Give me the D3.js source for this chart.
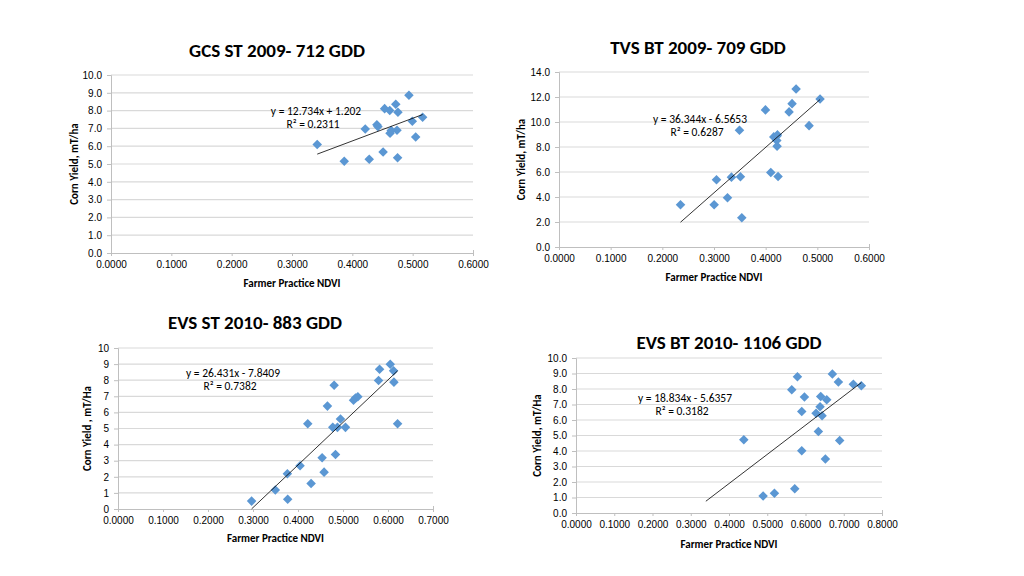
<!DOCTYPE html>
<html>
<head>
<meta charset="utf-8">
<script src="https://cdn.jsdelivr.net/npm/d3@7"></script>
<style>
  body { margin:0; background:#fff; }
  svg { font-family: Carlito, Lato, "Liberation Sans", sans-serif; }
  .tick text { font-size:10px; fill:#000; }
  .title { font-size:19px; font-weight:bold; }
  .axtitle { font-size:11px; font-weight:bold; }
  .eq { font-size:11.5px; }
</style>
</head>
<body>
<svg id="chart" width="1024" height="576"></svg>
<script>
// GCS ST 2009
var gcsX = [0.3418, 0.3866, 0.4214, 0.4280, 0.4407, 0.4424, 0.4510, 0.4535, 0.4620, 0.4720, 0.4756, 0.4625, 0.4645, 0.4740, 0.4750, 0.4938, 0.4994, 0.5050, 0.5165]
  , gcsY = [6.09, 5.16, 6.97, 5.27, 7.21, 7.10, 5.68, 8.11, 8.00, 8.36, 7.91, 6.73, 6.88, 6.90, 5.35, 8.86, 7.40, 6.52, 7.63]
// TVS BT 2009
var tvsX = [0.2352, 0.3003, 0.3048, 0.3261, 0.3338, 0.3493, 0.3512, 0.3538, 0.3996, 0.4099, 0.4157, 0.4214, 0.4228, 0.4215, 0.4221, 0.4240, 0.4453, 0.4511, 0.4589, 0.4840, 0.5053]
  , tvsY = [3.38, 3.38, 5.38, 3.94, 5.59, 9.34, 5.62, 2.34, 10.97, 5.96, 8.81, 8.86, 8.97, 8.52, 8.07, 5.64, 10.81, 11.47, 12.64, 9.71, 11.84]
// EVS ST 2010
var evsStX = [0.2969, 0.3496, 0.3764, 0.3771, 0.4046, 0.4217, 0.4291, 0.4536, 0.4580, 0.4654, 0.4773, 0.4803, 0.4833, 0.4877, 0.4944, 0.5055, 0.5234, 0.5278, 0.5330, 0.5790, 0.5813, 0.6050, 0.6124, 0.6132, 0.6213]
  , evsStY = [0.49, 1.18, 2.19, 0.60, 2.68, 5.30, 1.59, 3.18, 2.29, 6.39, 5.07, 7.69, 3.38, 5.07, 5.59, 5.07, 6.76, 6.89, 6.97, 7.98, 8.68, 8.99, 8.58, 7.88, 5.30]
// EVS BT 2010
var evsBtX = [0.4387, 0.4892, 0.5188, 0.5641, 0.5719, 0.5789, 0.5902, 0.5902, 0.5972, 0.6276, 0.6337, 0.6381, 0.6398, 0.6433, 0.6520, 0.6555, 0.6703, 0.6860, 0.6894, 0.7251, 0.7460]
  , evsBtY = [4.72, 1.10, 1.27, 7.95, 1.57, 8.79, 6.55, 4.01, 7.48, 6.44, 5.26, 6.85, 7.52, 6.27, 3.49, 7.31, 8.97, 8.45, 4.68, 8.30, 8.21]

var titles = ['GCS ST 2009- 712 GDD', 'TVS BT 2009- 709 GDD', 'EVS ST 2010- 883 GDD', 'EVS BT 2010- 1106 GDD']
var yTitles = ['Corn Yield, mT/ha', 'Corn Yield, mT/ha', 'Corn Yield , mT/Ha', 'Corn Yield, mT/Ha']
var slopes = [12.734, 36.344, 26.431, 18.834]
  , intercepts = [1.202, -6.5653, -7.8409, -5.6357]
  , eqLabels = ['y = 12.734x + 1.202', 'y = 36.344x - 6.5653', 'y = 26.431x - 7.8409', 'y = 18.834x - 5.6357']
  , r2Labels = ['R² = 0.2311', 'R² = 0.6287', 'R² = 0.7382', 'R² = 0.3182']
  , trendRanges = [[0.3418, 0.5165], [0.2352, 0.5053], [0.2969, 0.6213], [0.3395, 0.7460]]
var xMax = [0.6, 0.6, 0.7, 0.8]
  , yMax = [10, 14, 10, 10]
  , yStep = [1, 2, 1, 1]
  , yFmt = ['.1f', '.1f', 'd', '.1f']

var panels = [
  { xs:gcsX, ys:gcsY, l:111, r:473, t:75, b:253, titleX:277, titleY:57, yTitleX:78, xTitleY:287, eqX:316, eqY:115 }
  , { xs:tvsX, ys:tvsY, l:559, r:869, t:72, b:247, titleX:698, titleY:54, yTitleX:525, xTitleY:281, eqX:700, eqY:123 }
  , { xs:evsStX, ys:evsStY, l:118, r:433, t:348, b:509, titleX:255, titleY:329, yTitleX:91, xTitleY:542, eqX:233, eqY:377 }
  , { xs:evsBtX, ys:evsBtY, l:576, r:882, t:358, b:513, titleX:729, titleY:349, yTitleX:541, xTitleY:548, eqX:685, eqY:402 }
]

var svg = d3.select('#chart')
var diamond = d3.symbol().type(d3.symbolDiamond2).size(58)

panels.forEach(function(p, i) {
  var x = d3.scaleLinear().domain([0, xMax[i]]).range([p.l, p.r])
    , y = d3.scaleLinear().domain([0, yMax[i]]).range([p.b, p.t])
    , yTicks = d3.range(0, yMax[i] + 0.001, yStep[i])
    , xTicks = d3.range(0, xMax[i] + 0.001, 0.1)
    , g = svg.append('g')

  // gridlines
  g.selectAll('line.grid').data(yTicks.slice(1)).enter().append('line')
    .attr('x1', p.l).attr('x2', p.r)
    .attr('y1', function(d) { return y(d) }).attr('y2', function(d) { return y(d) })
    .attr('stroke', '#d9d9d9').attr('stroke-width', 1.2)

  var yAxis = g.append('g').attr('transform', 'translate(' + p.l + ',0)')
    .call(d3.axisLeft(y).tickValues(yTicks).tickFormat(d3.format(yFmt[i])).tickSize(4).tickPadding(5))
  var xAxis = g.append('g').attr('transform', 'translate(0,' + p.b + ')')
    .call(d3.axisBottom(x).tickValues(xTicks).tickFormat(d3.format('.4f')).tickSize(-3).tickPadding(8))
  ;[yAxis, xAxis].forEach(function(a) {
    a.select('.domain').attr('stroke', '#bfbfbf')
    a.selectAll('.tick line').attr('stroke', '#bfbfbf')
  })
  xAxis.selectAll('.tick line').attr('y2', 3)

  // points
  g.selectAll('path.pt').data(p.xs).enter().append('path')
    .attr('d', diamond)
    .attr('transform', function(d, j) { return 'translate(' + x(d) + ',' + y(p.ys[j]) + ')' })
    .attr('fill', '#5b97d3')

  // trendline
  var tr = trendRanges[i]
  g.append('line')
    .attr('x1', x(tr[0])).attr('y1', y(slopes[i] * tr[0] + intercepts[i]))
    .attr('x2', x(tr[1])).attr('y2', y(slopes[i] * tr[1] + intercepts[i]))
    .attr('stroke', '#000').attr('stroke-width', 0.8)

  g.append('text').attr('class', 'eq').attr('x', p.eqX).attr('y', p.eqY).attr('text-anchor', 'middle').text(eqLabels[i])
  g.append('text').attr('class', 'eq').attr('x', p.eqX - 3).attr('y', p.eqY + 13).attr('text-anchor', 'middle').text(r2Labels[i])

  g.append('text').attr('class', 'title').attr('x', p.titleX).attr('y', p.titleY).attr('text-anchor', 'middle').text(titles[i])
  g.append('text').attr('class', 'axtitle').attr('x', (p.l + p.r) / 2).attr('y', p.xTitleY).attr('text-anchor', 'middle').text('Farmer Practice NDVI')
  g.append('text').attr('class', 'axtitle')
    .attr('transform', 'translate(' + p.yTitleX + ',' + (p.t + p.b) / 2 + ') rotate(-90)')
    .attr('text-anchor', 'middle').text(yTitles[i])
})
</script>
</body>
</html>
